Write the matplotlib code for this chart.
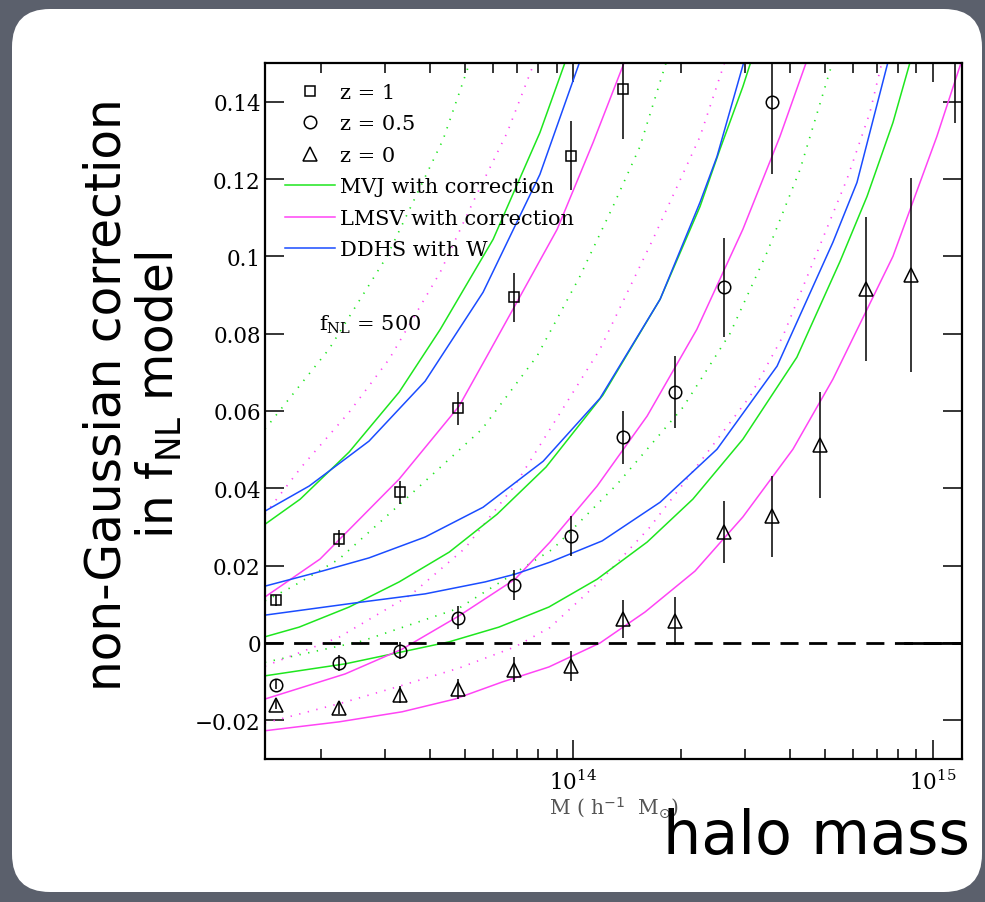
import numpy as np
import matplotlib.pyplot as plt
from matplotlib.patches import FancyBboxPatch
from matplotlib.ticker import LogLocator, NullFormatter, LogFormatterMathtext, FixedLocator

# halo mass bins of the N-body measurements, log10 M [h^-1 Msun]
logm_bins = [13.175, 13.350, 13.519, 13.681, 13.836, 13.994, 14.139,
             14.283, 14.419, 14.553, 14.686, 14.814, 14.939, 15.061]

# measured non-Gaussian correction, f_NL = 500
corr_z1 = [0.0110, 0.0269, 0.0390, 0.0607, 0.0894, 0.1260, 0.1434]
err_z1 = [0.0015, 0.0022, 0.0030, 0.0043, 0.0063, 0.0089, 0.0130]
corr_z05 = [-0.0108, -0.0052, -0.0020, 0.0065, 0.0150, 0.0277, 0.0532,
            0.0649, 0.0920, 0.1400]
err_z05 = [0.0012, 0.0020, 0.0022, 0.0030, 0.0040, 0.0052, 0.0069,
           0.0093, 0.0128, 0.0186]
corr_z0 = [-0.0160, -0.0168, -0.0134, -0.0118, -0.0069, -0.0060, 0.0063,
           0.0057, 0.0287, 0.0328, 0.0512, 0.0915, 0.0952, 0.1620]
err_z0 = [0.0012, 0.0015, 0.0022, 0.0026, 0.0032, 0.0039, 0.0049,
          0.0063, 0.0081, 0.0105, 0.0138, 0.0186, 0.0250, 0.0275]

# model predictions, z = 1
mvj_z1_m = [13.144, 13.242, 13.378, 13.517, 13.631, 13.778, 13.908, 13.985]
mvj_z1 = [0.0307, 0.0372, 0.0494, 0.0649, 0.0811, 0.1044, 0.1320, 0.1520]
lmsv_z1_m = [13.144, 13.297, 13.517, 13.683, 13.761, 13.833, 13.956, 14.056, 14.150]
lmsv_z1 = [0.0119, 0.0217, 0.0424, 0.0612, 0.0742, 0.0863, 0.1070, 0.1295, 0.1520]
ddhs_z1_m = [13.144, 13.267, 13.433, 13.589, 13.750, 13.908, 14.025]
ddhs_z1 = [0.0341, 0.0406, 0.0522, 0.0677, 0.0907, 0.1212, 0.1520]
mvj0_z1_m = [13.144, 13.239, 13.322, 13.483, 13.639, 13.720]
mvj0_z1 = [0.0553, 0.0664, 0.0760, 0.1000, 0.1302, 0.1520]
lmsv0_z1_m = [13.144, 13.247, 13.378, 13.489, 13.631, 13.722, 13.817, 13.900]
lmsv0_z1 = [0.0333, 0.0457, 0.0597, 0.0734, 0.0959, 0.1140, 0.1320, 0.1520]

# model predictions, z = 0.5
mvj_z05_m = [13.144, 13.239, 13.378, 13.517, 13.656, 13.789, 13.925, 14.083,
             14.242, 14.353, 14.408, 14.472, 14.500]
mvj_z05 = [0.0016, 0.0041, 0.0093, 0.0158, 0.0235, 0.0333, 0.0455, 0.0641,
           0.0889, 0.1129, 0.1276, 0.1439, 0.1520]
lmsv_z05_m = [13.144, 13.367, 13.525, 13.683, 13.839, 13.936, 14.067, 14.206,
              14.344, 14.472, 14.575, 14.655]
lmsv_z05 = [-0.0145, -0.0080, -0.0016, 0.0070, 0.0165, 0.0261, 0.0406, 0.0587,
            0.0811, 0.1070, 0.1310, 0.1520]
ddhs_z05_m = [13.144, 13.303, 13.433, 13.589, 13.750, 13.917, 14.075, 14.242,
              14.353, 14.400, 14.480]
ddhs_z05 = [0.0147, 0.0186, 0.0220, 0.0274, 0.0351, 0.0470, 0.0633, 0.0889,
            0.1140, 0.1258, 0.1520]
mvj0_z05_m = [13.144, 13.219, 13.350, 13.544, 13.747, 13.900, 14.019, 14.111,
              14.186, 14.265]
mvj0_z05 = [0.0109, 0.0145, 0.0217, 0.0380, 0.0553, 0.0742, 0.0948, 0.1129,
            0.1284, 0.1520]
lmsv0_z05_m = [13.144, 13.350, 13.550, 13.700, 13.840, 13.936, 14.075, 14.222,
               14.353, 14.428]
lmsv0_z05 = [-0.0060, 0.0015, 0.0125, 0.0245, 0.0410, 0.0553, 0.0760, 0.1044,
             0.1310, 0.1520]

# model predictions, z = 0
mvj_z0_m = [13.144, 13.367, 13.525, 13.656, 13.794, 13.933, 14.067, 14.206,
            14.333, 14.472, 14.622, 14.742, 14.817, 14.889, 14.942]
mvj_z0 = [-0.0085, -0.0054, -0.0023, 0.0003, 0.0041, 0.0093, 0.0165, 0.0261,
          0.0372, 0.0527, 0.0739, 0.0987, 0.1155, 0.1346, 0.1520]
lmsv_z0_m = [13.144, 13.350, 13.525, 13.672, 13.803, 13.933, 14.075, 14.200,
             14.339, 14.472, 14.611, 14.722, 14.889, 15.011, 15.085]
lmsv_z0 = [-0.0227, -0.0204, -0.0178, -0.0145, -0.0101, -0.0062, 0.0000, 0.0080,
           0.0186, 0.0326, 0.0501, 0.0682, 0.1000, 0.1310, 0.1520]
ddhs_z0_m = [13.144, 13.414, 13.589, 13.756, 13.839, 13.936, 14.081, 14.242,
             14.400, 14.567, 14.722, 14.789, 14.880]
ddhs_z0 = [0.0072, 0.0106, 0.0127, 0.0158, 0.0178, 0.0209, 0.0264, 0.0364,
           0.0501, 0.0716, 0.1036, 0.1191, 0.1520]
mvj0_z0_m = [13.144, 13.414, 13.683, 13.944, 14.122, 14.306, 14.436, 14.539,
             14.631, 14.727]
mvj0_z0 = [-0.0050, 0.0005, 0.0090, 0.0243, 0.0410, 0.0610, 0.0800, 0.1010,
           0.1225, 0.1520]
lmsv0_z0_m = [13.144, 13.358, 13.506, 13.683, 13.839, 13.936, 14.075, 14.214,
              14.353, 14.492, 14.583, 14.678, 14.761, 14.825, 14.863]
lmsv0_z0 = [-0.0207, -0.0155, -0.0115, -0.0065, -0.0010, 0.0040, 0.0160, 0.0300,
            0.0468, 0.0638, 0.0793, 0.1010, 0.1199, 0.1372, 0.1520]

yticks = [-0.02, 0.0, 0.02, 0.04, 0.06, 0.08, 0.1, 0.12, 0.14]
ytick_labels = ['\u22120.02', '0', '0.02', '0.04', '0.06', '0.08', '0.1', '0.12', '0.14']

GREEN = '#1ee61e'
MAGENTA = '#ff44f5'
BLUE = '#1a4cff'
SERIF = 'DejaVu Serif'

fig = plt.figure(figsize=(9.85, 9.03), dpi=100)
fig.patch.set_facecolor('#5b606c')

# white rounded slide panel (display pixels)
panel = FancyBboxPatch((12, 10), 970, 883, boxstyle='round,pad=0,rounding_size=38',
                       transform=None, facecolor='white', edgecolor='none', zorder=0)
fig.add_artist(panel)

ax = fig.add_axes([0.269, 0.1584, 0.7077, 0.7707])
ax.set_facecolor('white')


def m(logm):
    return 10 ** np.asarray(logm)


solid = dict(lw=1.1, solid_joinstyle='miter')
dotted = dict(lw=1.2, ls=(0, (0.8, 4.5)))

# uncorrected models (dotted)
for lm, v in [(mvj0_z1_m, mvj0_z1), (mvj0_z05_m, mvj0_z05), (mvj0_z0_m, mvj0_z0)]:
    ax.plot(m(lm), v, color=GREEN, **dotted)
for lm, v in [(lmsv0_z1_m, lmsv0_z1), (lmsv0_z05_m, lmsv0_z05), (lmsv0_z0_m, lmsv0_z0)]:
    ax.plot(m(lm), v, color=MAGENTA, **dotted)

# corrected models
for i, (lm, v) in enumerate([(mvj_z1_m, mvj_z1), (mvj_z05_m, mvj_z05), (mvj_z0_m, mvj_z0)]):
    ax.plot(m(lm), v, color=GREEN, label='MVJ with correction' if i == 0 else None, **solid)
for i, (lm, v) in enumerate([(lmsv_z1_m, lmsv_z1), (lmsv_z05_m, lmsv_z05), (lmsv_z0_m, lmsv_z0)]):
    ax.plot(m(lm), v, color=MAGENTA, label='LMSV with correction' if i == 0 else None, **solid)
for i, (lm, v) in enumerate([(ddhs_z1_m, ddhs_z1), (ddhs_z05_m, ddhs_z05), (ddhs_z0_m, ddhs_z0)]):
    ax.plot(m(lm), v, color=BLUE, label='DDHS with W' if i == 0 else None, **solid)

# zero line
ax.axhline(0, color='k', lw=2.0, ls=(0, (6.5, 3.8)), zorder=3)
ax.axhline(0, xmin=0.918, color='k', lw=2.0, zorder=3)

# measurements
data = [(corr_z1, err_z1, 's', 6.5, 'z = 1'),
        (corr_z05, err_z05, 'o', 9, 'z = 0.5'),
        (corr_z0, err_z0, '^', 10, 'z = 0')]
point_handles = []
for corr, err, mk, ms, lab in data:
    x = m(logm_bins[:len(corr)])
    ax.errorbar(x, corr, yerr=err, fmt='none', ecolor='k', elinewidth=1.1, capsize=0, zorder=4)
    h, = ax.plot(x, corr, ls='none', marker=mk, ms=ms, mfc='none', mec='k', mew=1.1,
                 label=lab, zorder=5)
    point_handles.append(h)

ax.set_xscale('log')
ax.set_xlim(10 ** 13.144, 10 ** 15.081)
ax.set_ylim(-0.03, 0.15)

ax.xaxis.set_major_locator(LogLocator(base=10))
ax.xaxis.set_major_formatter(LogFormatterMathtext())
ax.xaxis.set_minor_locator(LogLocator(base=10, subs=np.arange(2, 10)))
ax.xaxis.set_minor_formatter(NullFormatter())
ax.yaxis.set_major_locator(FixedLocator(yticks))
ax.set_yticklabels(ytick_labels)

ax.tick_params(which='both', direction='in', top=True, right=True, width=1.1, colors='k')
ax.tick_params(which='major', length=14, labelsize=15.5)
ax.tick_params(axis='y', which='major', pad=3)
ax.tick_params(axis='x', which='major', pad=8)
ax.tick_params(which='minor', length=7)
for lab in ax.get_xticklabels() + ax.get_yticklabels():
    lab.set_family(SERIF)
for sp in ax.spines.values():
    sp.set_linewidth(1.6)

ax.set_xlabel('M ( h$^{-1}$  M$_{\\odot}$)', family=SERIF, fontsize=14.5, color='#555555',
              labelpad=0)

line_handles = ax.get_legend_handles_labels()[0]
line_handles = [h for h in line_handles if h not in point_handles]
leg = ax.legend(point_handles + line_handles,
                [h.get_label() for h in point_handles + line_handles],
                loc='upper left', bbox_to_anchor=(0.0, 1.0), frameon=False,
                prop={'family': SERIF, 'size': 15}, handlelength=2.4,
                handletextpad=0.25, labelspacing=0.6, borderpad=0.5, borderaxespad=0.45)

ax.text(0.078, 0.625, '$\\mathregular{f_{NL}}$ = 500', transform=ax.transAxes,
        family=SERIF, fontsize=15, ha='left', va='center')

# slide annotations
fig.text(0.1355, 0.5626, 'non-Gaussian correction\nin $\\mathregular{f_{NL}}$ model', rotation=90,
         ha='center', va='center', multialignment='center', fontsize=35,
         linespacing=1.08, family='DejaVu Sans')
fig.text(0.985, 0.072, 'halo mass', ha='right', va='center', fontsize=43.5,
         family='DejaVu Sans')

fig.savefig('out.png', dpi=100, facecolor=fig.get_facecolor())
